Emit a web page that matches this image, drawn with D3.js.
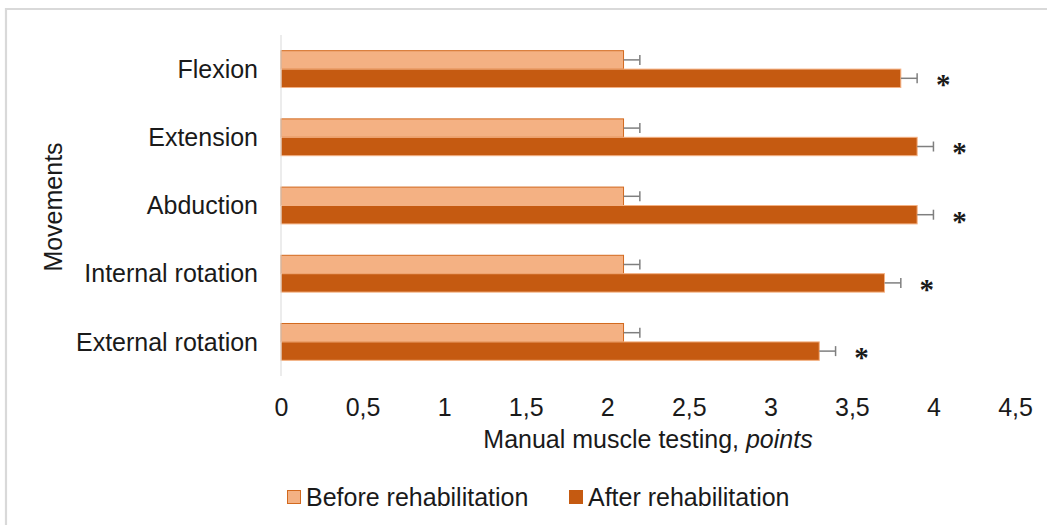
<!DOCTYPE html>
<html>
<head>
<meta charset="utf-8">
<script src="https://cdn.jsdelivr.net/npm/d3@7"></script>
<style>
  html, body { margin: 0; padding: 0; background: #fff; }
  svg { display: block; font-family: "Liberation Sans", Arial, sans-serif; }
</style>
</head>
<body>
<svg id="chart" width="1047" height="525"></svg>
<script>
// Movements tested (top to bottom)
const movements = ["Flexion", "Extension", "Abduction", "Internal rotation", "External rotation"];
// Mean manual muscle testing scores, points
const beforeValues = [2.1, 2.1, 2.1, 2.1, 2.1];
const afterValues  = [3.8, 3.9, 3.9, 3.7, 3.3];
// Error bar half-widths
const beforeErrors = [0.1, 0.1, 0.1, 0.1, 0.1];
const afterErrors  = [0.1, 0.1, 0.1, 0.1, 0.1];
// Significance markers for the after-rehabilitation bars
const significant = [true, true, true, true, true];
const seriesNames = ["Before rehabilitation", "After rehabilitation"];
const xTicks = [0, 0.5, 1, 1.5, 2, 2.5, 3, 3.5, 4, 4.5];

const colors = { before: "#f4b183", beforeStroke: "#d2691e", after: "#c55a11", afterStroke: "#f4b183" };
const textColor = "#1a1a1a";
const fontSize = 25;

const svg = d3.select("#chart");

// outer frame
svg.append("path")
  .attr("d", "M6,525 V9 H1047")
  .attr("fill", "none")
  .attr("stroke", "#d9d9d9")
  .attr("stroke-width", 2.2);

const x = d3.scaleLinear().domain([0, 4.5]).range([281, 1015]);
const y = d3.scaleBand().domain(movements).range([35, 376]).paddingInner(0.46).paddingOuter(0.23);
const sub = d3.scaleBand().domain(["before", "after"]).range([0, y.bandwidth()]);

const rows = movements.map((m, i) => ({
  m, before: beforeValues[i], after: afterValues[i],
  eb: beforeErrors[i], ea: afterErrors[i], sig: significant[i]
}));

const g = svg.append("g");

// bars
const row = g.selectAll("g.row").data(rows).join("g")
  .attr("class", "row")
  .attr("transform", d => `translate(0,${y(d.m)})`);

row.append("rect")
  .attr("x", x(0)).attr("y", sub("before"))
  .attr("width", d => x(d.before) - x(0)).attr("height", sub.bandwidth())
  .attr("fill", colors.before).attr("stroke", colors.beforeStroke).attr("stroke-width", 1);

row.append("rect")
  .attr("x", x(0)).attr("y", sub("after"))
  .attr("width", d => x(d.after) - x(0)).attr("height", sub.bandwidth())
  .attr("fill", colors.after).attr("stroke", colors.afterStroke).attr("stroke-width", 1);

// error bars
function errorBar(sel, key, errKey) {
  const cy = sub(key) + sub.bandwidth() / 2;
  sel.append("line")
    .attr("x1", d => x(d[key])).attr("x2", d => x(d[key] + d[errKey]))
    .attr("y1", cy).attr("y2", cy)
    .attr("stroke", "#7f7f7f").attr("stroke-width", 1.5);
  sel.append("line")
    .attr("x1", d => x(d[key] + d[errKey])).attr("x2", d => x(d[key] + d[errKey]))
    .attr("y1", cy - 5).attr("y2", cy + 5)
    .attr("stroke", "#7f7f7f").attr("stroke-width", 1.5);
}
errorBar(row, "before", "eb");
errorBar(row, "after", "ea");

// significance asterisks
row.filter(d => d.sig).append("text")
  .attr("x", d => x(d.after + d.ea) + 26)
  .attr("y", sub("after") + sub.bandwidth() / 2 + 16)
  .attr("text-anchor", "middle")
  .attr("font-family", "'Liberation Serif', 'Times New Roman', serif")
  .attr("font-size", 29).attr("font-weight", "bold")
  .attr("fill", textColor)
  .text("*");

// y axis line
g.append("line")
  .attr("x1", x(0)).attr("x2", x(0))
  .attr("y1", y.range()[0]).attr("y2", y.range()[1])
  .attr("stroke", "#d9d9d9").attr("stroke-width", 1);

// category labels
g.selectAll("text.cat").data(movements).join("text")
  .attr("class", "cat")
  .attr("x", 258)
  .attr("y", d => y(d) + y.bandwidth() / 2)
  .attr("dy", "0.35em")
  .attr("text-anchor", "end")
  .attr("font-size", fontSize)
  .attr("fill", textColor)
  .text(d => d);

// x axis tick labels
const xAxis = d3.axisBottom(x).tickValues(xTicks).tickSize(0).tickPadding(0)
  .tickFormat(d => String(d).replace(".", ","));
const ax = svg.append("g").attr("transform", "translate(0,398)").call(xAxis);
ax.select(".domain").remove();
ax.selectAll("text")
  .attr("font-size", fontSize)
  .attr("font-family", "'Liberation Sans', Arial, sans-serif")
  .attr("fill", textColor);

// axis titles
const xt = svg.append("text")
  .attr("x", 648).attr("y", 448)
  .attr("text-anchor", "middle")
  .attr("font-size", fontSize)
  .attr("fill", textColor);
xt.append("tspan").text("Manual muscle testing, ");
xt.append("tspan").attr("font-style", "italic").text("points");

svg.append("text")
  .attr("transform", "translate(62,207) rotate(-90)")
  .attr("text-anchor", "middle")
  .attr("font-size", fontSize)
  .attr("fill", textColor)
  .text("Movements");

// legend
const legendItems = [
  { name: seriesNames[0], fill: colors.before, stroke: colors.beforeStroke, x: 287 },
  { name: seriesNames[1], fill: colors.after, stroke: colors.after, x: 569 }
];
const lg = svg.selectAll("g.legend").data(legendItems).join("g")
  .attr("class", "legend")
  .attr("transform", d => `translate(${d.x},490)`);
lg.append("rect")
  .attr("x", 0.5).attr("y", 0.5).attr("width", 13).attr("height", 13)
  .attr("fill", d => d.fill).attr("stroke", d => d.stroke).attr("stroke-width", 1);
lg.append("text")
  .attr("x", 19).attr("y", 7)
  .attr("dy", "0.35em")
  .attr("font-size", fontSize)
  .attr("fill", textColor)
  .text(d => d.name);
</script>
</body>
</html>
